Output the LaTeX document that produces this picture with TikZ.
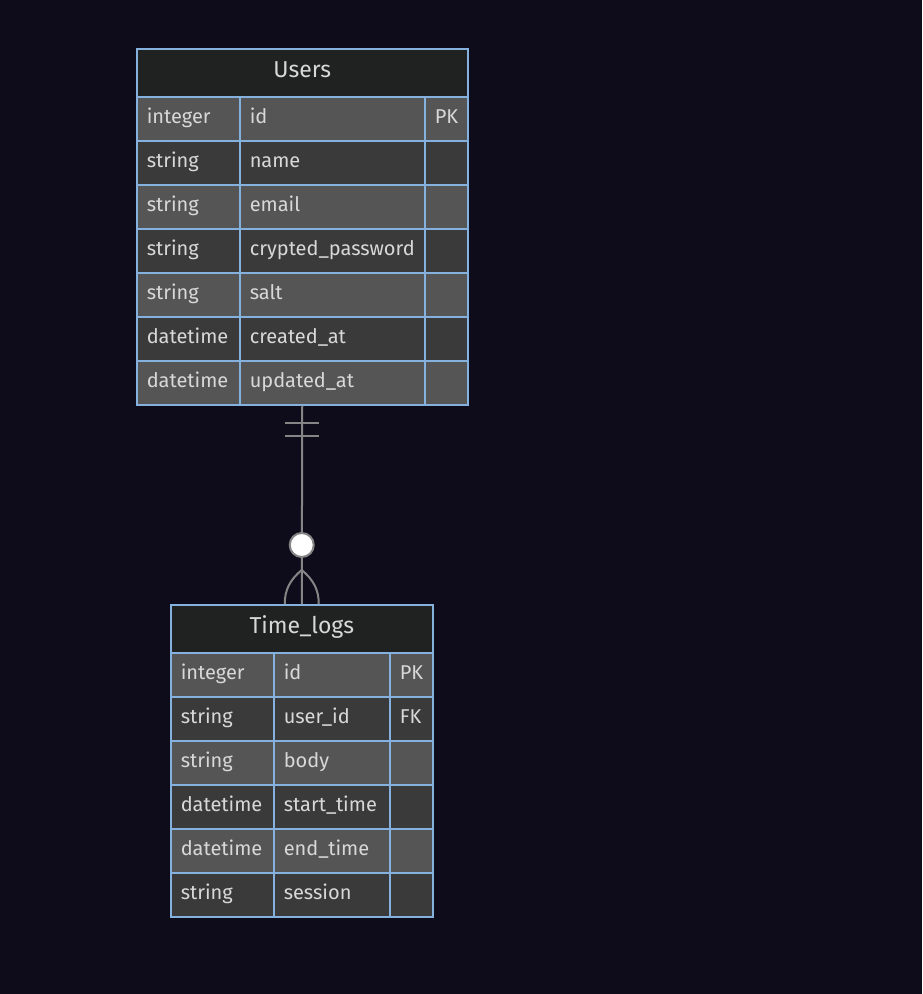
\documentclass[tikz,border=0pt]{standalone}
\usepackage{fontspec}
\setmainfont{Fira Sans}
\usetikzlibrary{fit,calc}
\definecolor{bg}{HTML}{0E0C1B}
\definecolor{hdr}{HTML}{202222}
\definecolor{rowA}{HTML}{555555}
\definecolor{rowB}{HTML}{3A3A3A}
\definecolor{bord}{HTML}{84B1DE}
\definecolor{txt}{HTML}{D8D8D8}
\definecolor{lnk}{HTML}{858585}
\tikzset{
  cell/.style={draw=bord, line width=1.5pt, anchor=north west, inner ysep=0pt, inner xsep=10pt,
    minimum height=44pt, text=txt, align=left, text height=14pt, text depth=5pt,
    font=\fontsize{20}{24}\selectfont},
  hdrbox/.style={draw=bord, line width=1.5pt, anchor=north west, inner sep=0pt, fill=hdr,
    minimum height=48pt, text=txt, text height=16pt, text depth=6pt, font=\fontsize{23}{27}\selectfont},
  rel/.style={draw=lnk, line width=2pt},
}
\begin{document}
\begin{tikzpicture}[x=1pt,y=-1pt]
\fill[bg] (0,0) rectangle (922,994);
\useasboundingbox (0,0) rectangle (922,994);

% Users table
\node[hdrbox, minimum width=331pt] (uh) at (136,48) {Users};
\foreach \t/\a/\k/\f [count=\i] in {integer/id/PK/rowA, string/name//rowB, string/email//rowA,
  string/crypted\_password//rowB, string/salt//rowA, datetime/created\_at//rowB, datetime/updated\_at//rowA}{
  \node[cell, fill=\f, text width=83pt] (u\i t) at (136,{96+44*(\i-1)}) {\t};
  \node[cell, fill=\f, text width=165pt] (u\i a) at (239,{96+44*(\i-1)}) {\a};
  \node[cell, fill=\f, text width=23pt] (u\i k) at (424,{96+44*(\i-1)}) {\k};
}
\node[fit=(uh)(u7t)(u7k), inner sep=0pt] (users) {};

% Time_logs table
\node[hdrbox, minimum width=262pt] (th) at (170,604) {Time\_logs};
\foreach \t/\a/\k/\f [count=\i] in {integer/id/PK/rowA, string/user\_id/FK/rowB, string/body//rowA,
  datetime/start\_time//rowB, datetime/end\_time//rowA, string/session//rowB}{
  \node[cell, fill=\f, text width=83pt] (t\i t) at (170,{652+44*(\i-1)}) {\t};
  \node[cell, fill=\f, text width=96pt] (t\i a) at (273,{652+44*(\i-1)}) {\a};
  \node[cell, fill=\f, text width=23pt] (t\i k) at (389,{652+44*(\i-1)}) {\k};
}

% relationship
\draw[rel] (users.south) -- (th.north);
\draw[rel] ($(users.south)+(-17,17)$) -- ($(users.south)+(17,17)$);
\draw[rel] ($(users.south)+(-17,30)$) -- ($(users.south)+(17,30)$);
\draw[rel] ($(th.north)+(0,-34)$) .. controls ($(th.north)+(-12,-24)$) and ($(th.north)+(-17,-14)$) .. ($(th.north)+(-17,0)$);
\draw[rel] ($(th.north)+(0,-34)$) .. controls ($(th.north)+(12,-24)$) and ($(th.north)+(17,-14)$) .. ($(th.north)+(17,0)$);
\draw[rel, fill=white] ($(th.north)+(0,-59)$) circle (12pt);
\end{tikzpicture}
\end{document}
